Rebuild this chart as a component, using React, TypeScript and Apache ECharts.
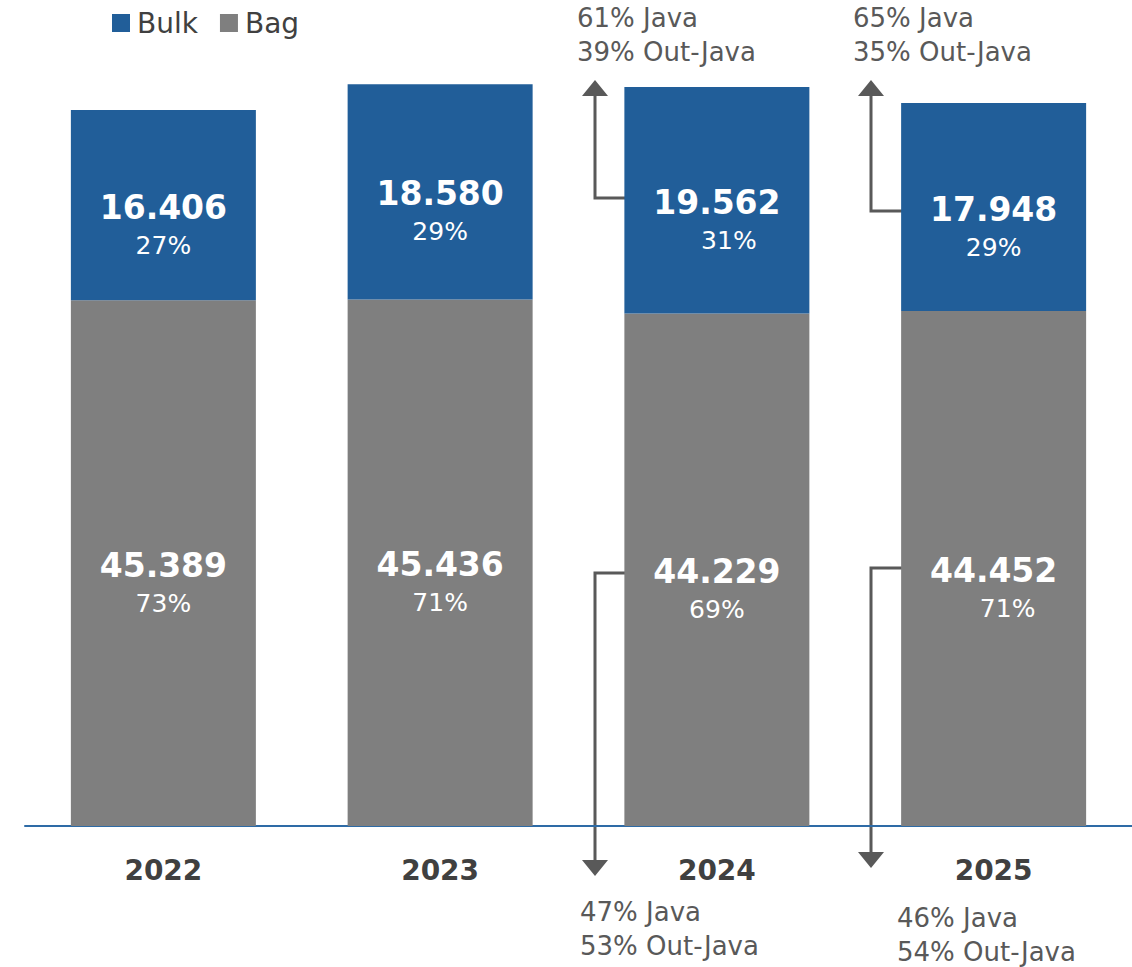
import React, { useEffect, useRef } from "react";
import * as echarts from "echarts";

const years = ["2022", "2023", "2024", "2025"];
const bulk = [16406, 18580, 19562, 17948];
const bag = [45389, 45436, 44229, 44452];
const topNotes = [
  { java: "61% Java", out: "39% Out-Java" },
  { java: "65% Java", out: "35% Out-Java" },
];
const bottomNotes = [
  { java: "47% Java", out: "53% Out-Java" },
  { java: "46% Java", out: "54% Out-Java" },
];

const BLUE = "#215E99";
const GRAY = "#7F7F7F";
const DARK = "#404040";
const NOTE = "#595959";
const FONT = "'DejaVu Sans', sans-serif";

// small horizontal nudges of percentage labels, as in the reference
const bulkPctShift = [0, 0, 24, 0];
const bagPctShift = [0, 0, 0, 28];

const fmt = (n: number) => String(n).replace(/\B(?=(\d{3})+(?!\d))/g, ".");

function arrowUp(x: number, yStart: number, xStart: number, yTip: number) {
  return [
    { type: "polyline", shape: { points: [[xStart, yStart], [x, yStart], [x, yTip + 14]] }, style: { stroke: NOTE, lineWidth: 3, fill: null } },
    { type: "polygon", shape: { points: [[x, yTip], [x - 13, yTip + 16], [x + 13, yTip + 16]] }, style: { fill: NOTE } },
  ];
}
function arrowDown(x: number, yStart: number, xStart: number, yTip: number) {
  return [
    { type: "polyline", shape: { points: [[xStart, yStart], [x, yStart], [x, yTip - 14]] }, style: { stroke: NOTE, lineWidth: 3, fill: null } },
    { type: "polygon", shape: { points: [[x, yTip], [x - 13, yTip - 16], [x + 13, yTip - 16]] }, style: { fill: NOTE } },
  ];
}
function note(x: number, y: number, lines: { java: string; out: string }) {
  return {
    type: "text",
    left: x,
    top: y,
    style: { text: lines.java + "\n" + lines.out, fill: NOTE, font: `26px ${FONT}`, lineHeight: 34 },
  };
}

export default function App() {
  const ref = useRef<HTMLDivElement>(null);
  useEffect(() => {
    const chart = echarts.init(ref.current!, null, { renderer: "svg" });
    const totals = bulk.map((b, i) => b + bag[i]);
    const rich: any = {
      v: { fontSize: 33, fontWeight: "bold", color: "#fff", lineHeight: 40, fontFamily: FONT },
      p: { fontSize: 25, color: "#fff", lineHeight: 36, fontFamily: FONT },
      s24: { fontSize: 25, color: "#fff", lineHeight: 36, fontFamily: FONT, padding: [0, 0, 0, 24] },
      s28: { fontSize: 25, color: "#fff", lineHeight: 36, fontFamily: FONT, padding: [0, 0, 0, 28] },
    };
    const makeFormatter = (shifts: number[]) => (p: any) => {
      const pct = Math.round((p.value / totals[p.dataIndex]) * 100);
      const s = shifts[p.dataIndex];
      const key = s ? `s${s}` : "p";
      return `{v|${fmt(p.value)}}\n{${key}|${pct}%}`;
    };
    chart.setOption({
      animation: false,
      grid: { left: 25, right: 0, top: 15, bottom: 141 },
      legend: {
        data: ["Bulk", "Bag"],
        left: 107,
        top: 4,
        icon: "rect",
        itemWidth: 18,
        itemHeight: 18,
        itemGap: 22,
        textStyle: { fontSize: 28, color: DARK, fontFamily: FONT, padding: [0, 0, 0, 2] },
      },
      xAxis: {
        type: "category",
        data: years,
        axisLine: { lineStyle: { color: "#2E6BA6", width: 2 } },
        axisTick: { show: false },
        axisLabel: { fontSize: 28, fontWeight: "bold", color: DARK, margin: 30, fontFamily: FONT },
      },
      yAxis: { type: "value", min: 0, max: 70000, show: false, splitLine: { show: false } },
      series: [
        {
          name: "Bag",
          type: "bar",
          stack: "t",
          barWidth: 185,
          itemStyle: { color: GRAY },
          data: bag,
          label: { show: true, position: "inside", offset: [0, 20], rich, formatter: makeFormatter(bagPctShift) },
        },
        {
          name: "Bulk",
          type: "bar",
          stack: "t",
          barWidth: 185,
          itemStyle: { color: BLUE },
          data: bulk,
          label: { show: true, position: "inside", offset: [0, 20], rich, formatter: makeFormatter(bulkPctShift) },
        },
      ],
      graphic: [
        ...arrowUp(595, 198, 633, 80),
        ...arrowDown(595, 573, 633, 876),
        ...arrowUp(871, 211, 910, 80),
        ...arrowDown(871, 568, 910, 868),
        note(577, 1, topNotes[0]),
        note(853, 1, topNotes[1]),
        note(580, 895, bottomNotes[0]),
        note(897, 901, bottomNotes[1]),
      ],
    });
    return () => chart.dispose();
  }, []);
  return <div ref={ref} style={{ position: "absolute", left: 0, top: 0, width: 1132, height: 967 }} />;
}
